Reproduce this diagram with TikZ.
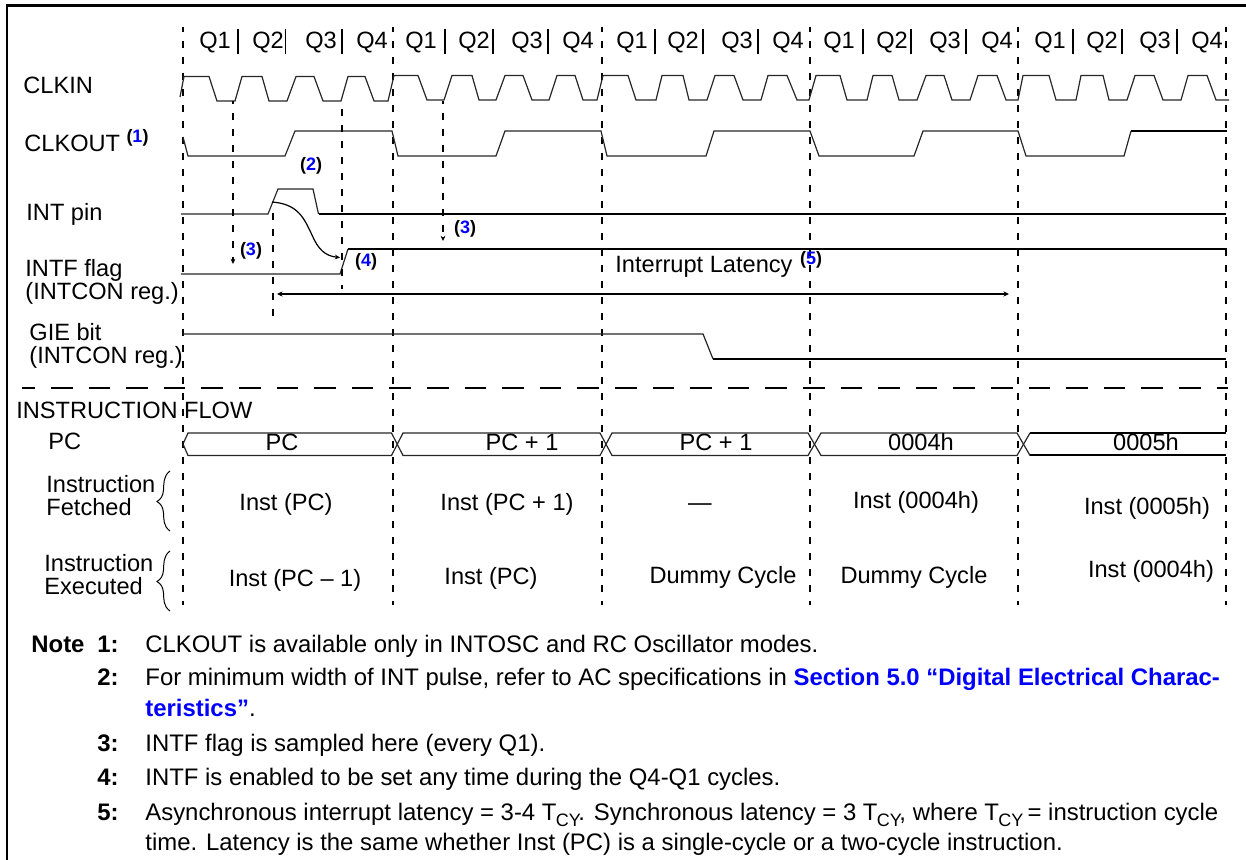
\documentclass[tikz,border=0pt]{standalone}
\usepackage{fontspec}
\setmainfont{Liberation Sans}
\usetikzlibrary{arrows.meta}
\definecolor{refblue}{RGB}{0,0,255}
\newcommand{\Tcy}{T\kern-0.03em\raisebox{-0.28em}{\fontsize{9}{11}\selectfont CY}\kern-0.1em}
\tikzset{
  lab/.style={inner sep=0pt,anchor=base west,font=\fontsize{11.8}{14}\selectfont},
  ctr/.style={inner sep=0pt,anchor=base,font=\fontsize{11.8}{14}\selectfont},
  note/.style={inner sep=0pt,anchor=base west,font=\fontsize{11.95}{14}\selectfont},
  ref/.style={inner sep=0pt,anchor=base,font=\fontsize{9}{11}\selectfont\bfseries},
  wave/.style={line width=0.6pt,black!85,line join=miter},
  thick wave/.style={line width=1pt,black},
  cycle mark/.style={line width=1pt,dash pattern=on 3.5pt off 4.5pt},
  tick mark/.style={line width=0.9pt},
  tip/.style={-{Stealth[length=2.6pt,width=2.4pt]}},
  brace line/.style={line width=0.5pt}
}
\begin{document}
\begin{tikzpicture}[x=0.5pt,y=-0.5pt]
\useasboundingbox (0,0) rectangle (1246,860);
% frame
\draw[line width=1.1pt] (7,860) -- (7,5.5) -- (1246,5.5);
% cycle boundaries
\foreach \x in {183,393,602,810,1018,1226}
  \draw[cycle mark,dash phase=1pt] (\x,27) -- (\x,605);
% quarter ticks
\foreach \x in {238,285.5,342,445,493,548,655,703,758,863,911,966,1073,1122,1177}
  \draw[tick mark] (\x,29) -- (\x,54);
% Q labels
\foreach \x/\t [count=\i] in {215/Q1,268/Q2,321/Q3,372/Q4,421/Q1,474/Q2,527/Q3,578/Q4,632/Q1,683/Q2,737/Q3,788/Q4,839/Q1,892/Q2,945/Q3,997/Q4,1050/Q1,1102/Q2,1155/Q3,1207/Q4}
  \node[ctr] (q\i) at (\x,49) {\t};
% signal names
\node[lab] (clkin) at (23,94) {CLKIN};
\node[lab] (clkout) at (24,152) {CLKOUT};
\node[lab] (intpin) at (26,221) {INT pin};
\node[lab] (intf) at (25,277) {INTF flag};
\node[lab] (intfreg) at (25,300) {(INTCON reg.)};
\node[lab] (gie) at (29,341) {GIE bit};
\node[lab] (giereg) at (29,364) {(INTCON reg.)};
\node[lab] (flow) at (16,419) {INSTRUCTION FLOW};
\node[lab] (pcl) at (48,450) {PC};
\node[lab] (fa) at (46,493) {Instruction};
\node[lab] (fb) at (46,516) {Fetched};
\node[lab] (ea) at (44,571) {Instruction};
\node[lab] (eb) at (44,594) {Executed};
% reference marks
\node[ref] (r1) at (137.5,143) {(\textcolor{refblue}{1})};
\node[ref] (r2) at (311,171) {(\textcolor{refblue}{2})};
\node[ref] (r3a) at (251,256) {(\textcolor{refblue}{3})};
\node[ref] (r3b) at (465,234) {(\textcolor{refblue}{3})};
\node[ref] (r4) at (366,267) {(\textcolor{refblue}{4})};
\node[ref] (r5) at (811,265) {(\textcolor{refblue}{5})};
\node[lab] (lat) at (615,273) {Interrupt Latency};
% CLKIN
\draw[wave] (180,97) -- (184,76.5) -- (209,76.5) -- (217,101) -- (235,101) -- (242,76.5) -- (262,76.5) -- (269,101) -- (287,101) -- (296,76.5) -- (314,76.5) -- (323,101) -- (341,101) -- (348,76.5) -- (365,76.5) -- (374,101) -- (388,101) -- (394,75.5)
 -- (418,75.5) -- (427,100) -- (444,100) -- (452,75.5) -- (472,75.5) -- (479,100) -- (496,100) -- (505,75.5) -- (523,75.5) -- (532,100) -- (549,100) -- (557,75.5) -- (575,75.5) -- (583,100) -- (597,100) -- (603,75.5)
 -- (628,75.5) -- (636,100) -- (656,100) -- (662,75.5) -- (683,75.5) -- (689,100) -- (707,100) -- (715,75.5) -- (734,75.5) -- (743,100) -- (761,100) -- (768,75.5) -- (787,75.5) -- (797,100) -- (809,100) -- (816,75.5)
 -- (840,75.5) -- (847,100) -- (867,100) -- (873,75.5) -- (892,75.5) -- (899,100) -- (917,100) -- (926,75.5) -- (944,75.5) -- (952,100) -- (970,100) -- (978,75.5) -- (997,75.5) -- (1006,100) -- (1018,100) -- (1023,75.5)
 -- (1049,75.5) -- (1056,100) -- (1076,100) -- (1081,75.5) -- (1103,75.5) -- (1109,100) -- (1127,100) -- (1135,75.5) -- (1154,75.5) -- (1163,100) -- (1181,100) -- (1188,75.5) -- (1207,75.5) -- (1216,100) -- (1229,100);
% CLKOUT
\draw[wave] (183,137) -- (188,156) -- (285,156) -- (295,131) -- (392,131) -- (398,156) -- (496,156) -- (505,131) -- (601,131) -- (607,156) -- (706,156) -- (714,131) -- (810,131) -- (819,156) -- (914,156) -- (923,131) -- (1018,131) -- (1026,156) -- (1124,156) -- (1131,131);
\draw[thick wave] (1131,131) -- (1227,131);
% INT pin
\draw[wave] (181,214) -- (268,214) -- (278,189) -- (313,189) -- (318.5,214);
\draw[thick wave] (318.5,214) -- (1226,214);
% INTF
\draw[wave] (181,274) -- (340,274) -- (348,249);
\draw[thick wave] (348,249) -- (1227,249);
% GIE
\draw[wave] (183,334) -- (703,334) -- (713,359);
\draw[thick wave] (713,359) -- (1226,359);
% sampling / edge markers
\coordinate (s1a) at (233,101); \coordinate (s1b) at (233,264);
\coordinate (s2a) at (443,101); \coordinate (s2b) at (443,241);
\draw[cycle mark,dash phase=2pt,tip] (s1a) -- (s1b);
\draw[cycle mark,dash phase=2pt,tip] (s2a) -- (s2b);
\draw[cycle mark] (273,213) -- (273,318);
\draw[cycle mark] (342,109) -- (342,289);
% INT to INTF curve
\coordinate (ca) at (272,202); \coordinate (cb) at (340,257.5);
\draw[line width=0.6pt,tip] (ca) .. controls (298,204) and (304,218) .. (312,235) .. controls (318,249) and (325,256) .. (cb);
% latency arrow
\coordinate (la) at (277,294); \coordinate (lb) at (1009,294);
\draw[line width=1pt,{Stealth[length=2.8pt,width=2.6pt]}-{Stealth[length=2.8pt,width=2.6pt]}] (la) -- (lb);
% separator
\draw[line width=1pt,dash pattern=on 10.8pt off 8pt,dash phase=4.3pt] (22,388) -- (1228,388);
% PC bus
\draw[wave] (183,444) -- (188,433) -- (391.5,433) -- (403,455.5) -- (600,455.5) -- (612,433) -- (808,433) -- (821,455.5) -- (1017,455.5) -- (1030,433);
\draw[wave] (183,444) -- (188,455.5) -- (391.5,455.5) -- (403,433) -- (600,433) -- (612,455.5) -- (808,455.5) -- (821,433) -- (1017,433) -- (1030,455.5);
\draw[thick wave] (1030,433) -- (1226,433);
\draw[thick wave] (1030,455.5) -- (1226,455.5);
\fill (183,444) circle (1.2);
\node[ctr] (pc1) at (282,451) {PC};
\node[ctr] (pc2) at (522,451) {PC + 1};
\node[ctr] (pc3) at (716,451) {PC + 1};
\node[ctr] (pc4) at (921,451) {0004h};
\node[ctr] (pc5) at (1146,451) {0005h};
% braces
\draw[brace line] (170,471) .. controls (163,476) and (164,484) .. (163.5,490) .. controls (163,496) and (161,499) .. (157,501.5) .. controls (161,504) and (163,507) .. (163.5,513) .. controls (164,519) and (163,526) .. (170,531);
\draw[brace line] (170,551) .. controls (163,556) and (164,564) .. (163.5,570) .. controls (163,576) and (161,579) .. (157,581.5) .. controls (161,584) and (163,587) .. (163.5,593) .. controls (164,599) and (163,606) .. (170,611);
% instruction rows
\node[ctr] (f1) at (286,510) {Inst (PC)};
\node[ctr] (f2) at (507,510) {Inst (PC + 1)};
\node[ctr] (f3) at (700,510) {—};
\node[ctr] (f4) at (916,509) {Inst (0004h)};
\node[ctr] (f5) at (1147,514) {Inst (0005h)};
\node[ctr] (e1) at (295,586) {Inst (PC – 1)};
\node[ctr] (e2) at (491,584) {Inst (PC)};
\node[ctr] (e3) at (723,583) {Dummy Cycle};
\node[ctr] (e4) at (914,583) {Dummy Cycle};
\node[ctr] (e5) at (1151,577) {Inst (0004h)};
% notes
\node[note,font=\fontsize{11.95}{14}\selectfont\bfseries] (nn) at (31,652) {Note};
\foreach \y/\t in {652/1,685/2,751/3,785/4,820/5}
  \node[note,font=\fontsize{11.95}{14}\selectfont\bfseries] (nk\t) at (97,\y) {\t:};
\node[note] (n1) at (145,652) {CLKOUT is available only in INTOSC and RC Oscillator modes.};
\node[note] (n2) at (145,685) {For minimum width of INT pulse, refer to AC specifications in \textcolor{refblue}{\bfseries Section 5.0 “Digital Electrical Charac-}};
\node[note] (n2b) at (145,716) {\textcolor{refblue}{\bfseries teristics”}.};
\node[note] (n3) at (145,751) {INTF flag is sampled here (every Q1).};
\node[note] (n4) at (145,785) {INTF is enabled to be set any time during the Q4-Q1 cycles.};
\node[note] (n5) at (145,820) {Asynchronous interrupt latency = 3-4 \Tcy. Synchronous latency = 3 \Tcy, where \Tcy\ = instruction cycle};
\node[note] (n5b) at (145,850) {time. Latency is the same whether Inst (PC) is a single-cycle or a two-cycle instruction.};
\end{tikzpicture}
\end{document}
